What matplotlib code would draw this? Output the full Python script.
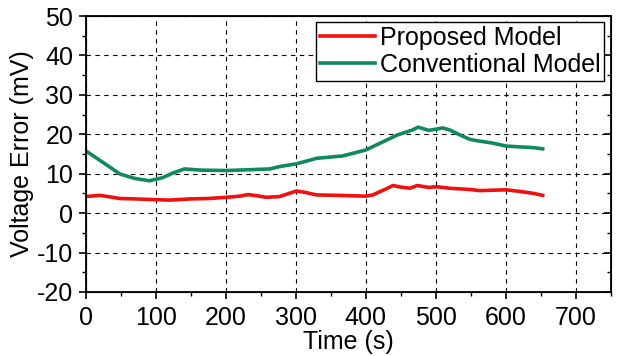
import matplotlib
matplotlib.use("Agg")
import matplotlib.pyplot as plt
from matplotlib.ticker import MultipleLocator

plt.rcParams["font.family"] = ["Liberation Sans", "DejaVu Sans"]
plt.rcParams["axes.unicode_minus"] = False

# Proposed model voltage error
prop_t = [0, 20, 35, 49, 70, 100, 120, 150, 175, 201, 220, 232, 245, 258, 277,
          301, 315, 330, 360, 400, 410, 420, 430, 439, 450, 463, 474, 490, 501,
          520, 549, 563, 580, 601, 620, 640, 653]
prop_v = [4.2, 4.5, 4.1, 3.7, 3.6, 3.4, 3.3, 3.6, 3.7, 4.0, 4.3, 4.7, 4.4, 4.0, 4.2,
          5.6, 5.2, 4.6, 4.5, 4.3, 4.6, 5.4, 6.2, 7.0, 6.6, 6.3, 7.0, 6.5, 6.7,
          6.3, 6.0, 5.7, 5.8, 5.9, 5.5, 5.0, 4.5]

# Conventional model voltage error
conv_t = [0, 15, 30, 49, 70, 91, 110, 125, 141, 165, 201, 234, 263, 277, 301,
          330, 367, 400, 425, 445, 467, 475, 490, 501, 510, 520, 535, 549, 558,
          580, 601, 620, 640, 653]
conv_v = [15.8, 14.0, 12.2, 9.9, 8.8, 8.2, 9.0, 10.2, 11.2, 10.9, 10.8, 11.0, 11.2,
          11.8, 12.5, 13.9, 14.5, 16.0, 18.1, 19.8, 21.1, 21.8, 21.0, 21.3, 21.6,
          21.1, 19.8, 18.7, 18.4, 17.8, 17.0, 16.8, 16.6, 16.3]

fig, ax = plt.subplots(figsize=(6.4, 3.56), dpi=100)
fig.subplots_adjust(left=0.134, right=0.954, top=0.955, bottom=0.180)

ax.plot(prop_t, prop_v, color="#f01010", lw=2.6, label="Proposed Model", zorder=3)
ax.plot(conv_t, conv_v, color="#0e8a5c", lw=2.6, label="Conventional Model", zorder=3)

ax.set_xlim(0, 750)
ax.set_ylim(-20, 50)
ax.xaxis.set_major_locator(MultipleLocator(100))
ax.xaxis.set_minor_locator(MultipleLocator(50))
ax.yaxis.set_major_locator(MultipleLocator(10))
ax.yaxis.set_minor_locator(MultipleLocator(5))
ax.grid(True, which="major", color="black", lw=0.8, linestyle=(0, (4, 4)))

ax.tick_params(axis="both", which="major", labelsize=18, length=5, width=1.2,
               direction="out")
ax.tick_params(axis="both", which="minor", length=3, width=1.0, direction="out")
ax.tick_params(axis="x", which="major", pad=5)
ax.tick_params(axis="y", which="major", pad=4)
for s in ax.spines.values():
    s.set_linewidth(1.3)

# inward ticks on the right side
rax = ax.twinx()
rax.set_ylim(ax.get_ylim())
rax.yaxis.set_major_locator(MultipleLocator(10))
rax.yaxis.set_minor_locator(MultipleLocator(5))
rax.tick_params(axis="y", which="major", direction="in", length=5, width=1.2,
                labelright=False)
rax.tick_params(axis="y", which="minor", direction="in", length=3, width=1.0)

ax.set_xlabel("Time (s)", fontsize=18, labelpad=0)
ax.set_ylabel("Voltage Error (mV)", fontsize=18, labelpad=2)

leg = ax.legend(loc="upper right", fontsize=18, frameon=True, fancybox=False,
                edgecolor="black", handlelength=2.2, handletextpad=0.2,
                labelspacing=0.12, borderpad=0.15, borderaxespad=0.25)
leg.get_frame().set_linewidth(1.0)
leg.get_frame().set_alpha(1)

fig.savefig("out.png", dpi=100)
